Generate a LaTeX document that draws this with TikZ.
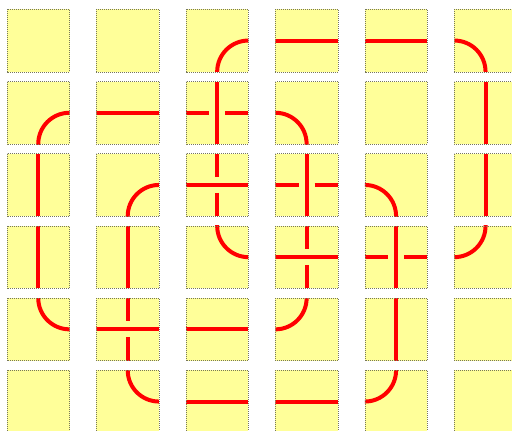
\documentclass[tikz,border=0pt]{standalone}
\definecolor{tilefill}{HTML}{FFFF99}
\definecolor{tileedge}{HTML}{77775A}
\definecolor{pipered}{HTML}{FF0000}
\tikzset{
  tileback/.style={fill=tilefill},
  tileborder/.style={draw=tileedge,line width=0.6pt,dash pattern=on 0.6pt off 1.4pt},
  pipe/.style={draw=pipered,line width=4pt},
}
\def\ss{62.5}
\def\hh{31.25}
\def\gp{8}
\newcommand\tpE{}
\newcommand\tpH{\draw[pipe] (0,\hh) -- (\ss,\hh);}
\newcommand\tpV{\draw[pipe] (\hh,0) -- (\hh,\ss);}
\newcommand\tpRB{\draw[pipe] (\ss,\ss) circle (\hh);}
\newcommand\tpLB{\draw[pipe] (0,\ss) circle (\hh);}
\newcommand\tpTR{\draw[pipe] (\ss,0) circle (\hh);}
\newcommand\tpTL{\draw[pipe] (0,0) circle (\hh);}
\newcommand\tpXV{\draw[pipe] (\hh,0) -- (\hh,\ss);
  \draw[pipe] (0,\hh) -- (\hh-\gp,\hh);
  \draw[pipe] (\hh+\gp,\hh) -- (\ss,\hh);}
\newcommand\tpXH{\draw[pipe] (0,\hh) -- (\ss,\hh);
  \draw[pipe] (\hh,0) -- (\hh,\hh-\gp);
  \draw[pipe] (\hh,\hh+\gp) -- (\hh,\ss);}
\newcommand\Tile[3]{%
  \begin{scope}[shift={({7+89.46*#1},{9.3+72.2*#2})}]
    \path[tileback] (0,0) rectangle (\ss,\ss);
    \begin{scope}
      \clip (0,0) rectangle (\ss,\ss);
      \csname tp#3\endcsname
    \end{scope}
    \path[tileborder] (0,0) rectangle (\ss,\ss);
  \end{scope}}
\begin{document}
\begin{tikzpicture}[x=1pt,y=-1pt]
  \useasboundingbox (0,0) rectangle (512,431);
  \fill[white] (0,0) rectangle (512,431);
  \foreach \c/\r/\t in {
    0/0/E,1/0/E,2/0/RB,3/0/H,4/0/H,5/0/LB,
    0/1/RB,1/1/H,2/1/XV,3/1/LB,4/1/E,5/1/V,
    0/2/V,1/2/RB,2/2/XH,3/2/XV,4/2/LB,5/2/V,
    0/3/V,1/3/V,2/3/TR,3/3/XH,4/3/XV,5/3/TL,
    0/4/TR,1/4/XH,2/4/H,3/4/TL,4/4/V,5/4/E,
    0/5/E,1/5/TR,2/5/H,3/5/H,4/5/TL,5/5/E}
    {\Tile{\c}{\r}{\t}}
\end{tikzpicture}
\end{document}
